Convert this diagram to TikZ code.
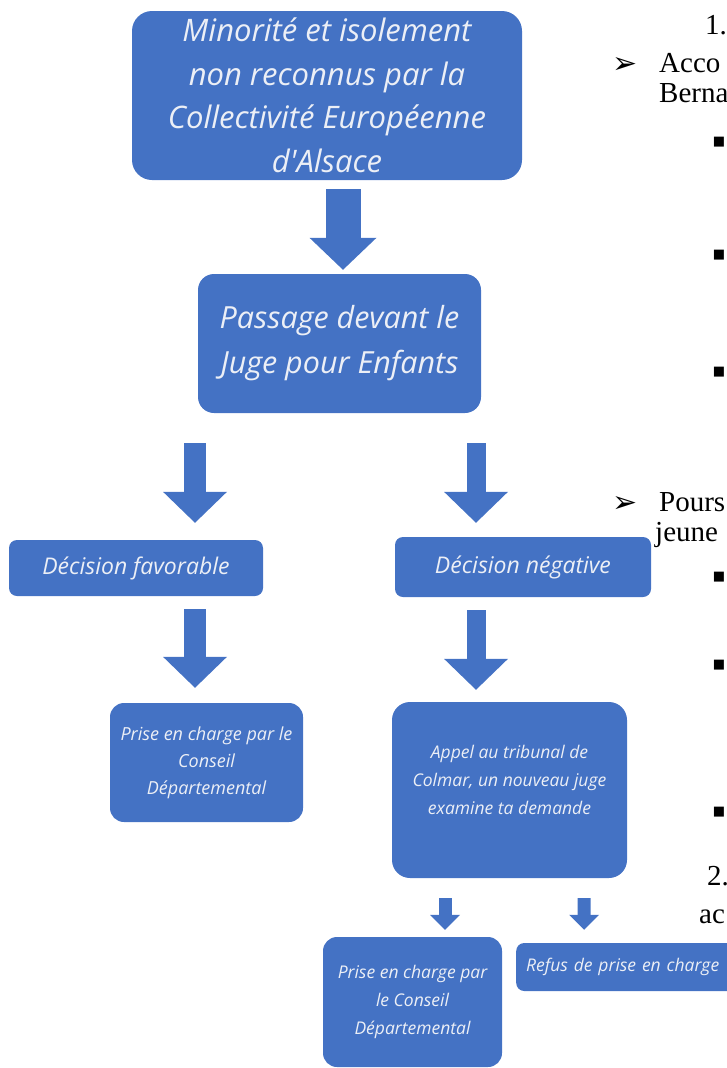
\documentclass[tikz,border=0pt]{standalone}
\usepackage{fontspec}
\setmainfont{Liberation Serif}
\newfontfamily\boxfont{Open Sans}
\newfontfamily\symfont{DejaVu Sans}
\usetikzlibrary{arrows.meta}
\definecolor{boxblue}{RGB}{68,114,196}
\definecolor{boxtext}{RGB}{236,239,246}

\begin{document}
\begin{tikzpicture}[x=1pt,y=-1pt]
\tikzstyle{block}=[fill=boxblue,text=boxtext,align=center,inner sep=2pt]
\tikzstyle{big}=[font=\boxfont\itshape\fontsize{31}{43.5}\selectfont]
\tikzstyle{mid}=[font=\boxfont\itshape\fontsize{23}{26}\selectfont]
\tikzstyle{small}=[font=\boxfont\itshape\fontsize{17.5}{28}\selectfont]
\tikzstyle{fatarrow}=[draw=boxblue,line width=22pt,-{Triangle[length=31pt,width=64pt,line width=0pt]}]
\tikzstyle{thinarrow}=[draw=boxblue,line width=13pt,-{Triangle[length=15pt,width=30pt,line width=0pt]}]
\tikzstyle{page}=[anchor=base west,inner sep=0pt,font=\fontsize{29}{32}\selectfont]
\tikzstyle{pointer}=[anchor=base west,inner sep=0pt,font=\symfont\fontsize{30}{30}\selectfont]
\tikzstyle{square}=[inner sep=0pt,font=\symfont\fontsize{13}{13}\selectfont]

\useasboundingbox (0,0) rectangle (727,1068);
\clip (0,0) rectangle (727,1068);

% flowchart boxes
\node [block,big,rounded corners=20pt,minimum width=390pt,minimum height=169pt] (isol) at (327,95.5)
  {Minorité et isolement\\non reconnus par la\\Collectivité Européenne\\d'Alsace};
\node [block,big,font=\boxfont\itshape\fontsize{30.5}{45}\selectfont,rounded corners=16pt,minimum width=283pt,minimum height=139pt] (juge) at (339.5,343.5)
  {Passage devant le\\Juge pour Enfants};
\node [block,mid,rounded corners=8pt,minimum width=254pt,minimum height=56pt] (fav) at (136,568)
  {Décision favorable};
\node [block,mid,rounded corners=8pt,minimum width=256pt,minimum height=60pt] (neg) at (523,567)
  {Décision négative};
\node [block,small,font=\boxfont\itshape\fontsize{18}{27}\selectfont,rounded corners=14pt,minimum width=193pt,minimum height=119pt] (prise) at (206.5,762.5)
  {Prise en charge par le\\Conseil\\Départemental};
\node [block,small,text depth=20pt,rounded corners=18pt,minimum width=235pt,minimum height=176pt] (appel) at (509.5,790)
  {Appel au tribunal de\\Colmar, un nouveau juge\\examine ta demande};
\node [block,small,rounded corners=14pt,minimum width=179pt,minimum height=130pt] (prise2) at (412.5,1002)
  {Prise en charge par\\le Conseil\\Départemental};
\node [block,small,rounded corners=8pt,anchor=west,align=left,inner xsep=10pt,text width=206pt,minimum height=48pt] (refus) at (516,967)
  {Refus de prise en charge};

% block arrows
\draw[fatarrow,line width=35pt,-{Triangle[length=32pt,width=67pt,line width=0pt]},shorten <=9pt,shorten >=4pt]
  ([xshift=16pt]isol.south) -- ([xshift=3.5pt]juge.north);
\draw[fatarrow,shorten <=30pt,shorten >=17pt] ([xshift=-144.5pt]juge.south) -- ([xshift=59pt]fav.north);
\draw[fatarrow,line width=19pt,shorten <=30pt,shorten >=14pt] ([xshift=136.5pt]juge.south) -- ([xshift=-47pt]neg.north);
\draw[fatarrow,shorten <=13pt,shorten >=15pt] ([xshift=59pt]fav.south) -- ([xshift=-11.5pt]prise.north);
\draw[fatarrow,line width=19pt,shorten <=13pt,shorten >=12pt] ([xshift=-47pt]neg.south) -- ([xshift=-33.5pt]appel.north);
\draw[thinarrow,shorten <=20pt,shorten >=7pt] ([xshift=-64.5pt]appel.south) -- ([xshift=32.5pt]prise2.north);
\draw[thinarrow,shorten <=20pt,shorten >=13pt] ([xshift=74.5pt]appel.south) -- ([xshift=-45pt]refus.north);

% text of the page beside the chart
\node [page] (n1) at (705,34) {1.};
\node [pointer] (t1) at (612,73) {➢};
\node [page] (acco) at (659,72) {Acco};
\node [page] (berna) at (659,102) {Berna};
\node [square] (s1) at (719,142) {■};
\node [square] (s2) at (719,255) {■};
\node [square] (s3) at (719,372) {■};
\node [pointer] (t2) at (612,512) {➢};
\node [page] (pours) at (659,511) {Pours};
\node [page] (jeune) at (655,541) {jeune};
\node [square] (s4) at (719,577) {■};
\node [square] (s5) at (719,665) {■};
\node [square] (s6) at (719,812) {■};
\node [page] (n2) at (707,885) {2.};
\node [page] (ac) at (699,923) {ac};
\end{tikzpicture}
\end{document}
